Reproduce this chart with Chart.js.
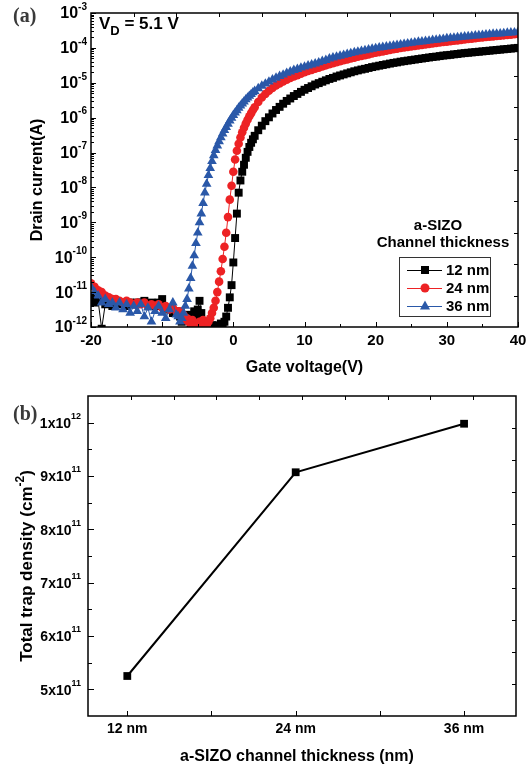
<!DOCTYPE html>
<html>
<head>
<meta charset="utf-8">
<script src="https://cdn.jsdelivr.net/npm/chart.js"></script>
<style>
  body { margin: 0; background: #fff; }
  canvas { position: absolute; left: 0; }
  #chartA { top: 0; }
  #chartB { top: 376px; }
</style>
</head>
<body>
<canvas id="chartA" width="532" height="376"></canvas>
<canvas id="chartB" width="532" height="395"></canvas>
<script>
// gate voltage sweep (V): coarse off-state, fine around turn-on, coarse on-state
const gateVoltage = [
  -20, -19.5, -19, -18.5, -18, -17.5, -17, -16.5, -16, -15.5, -15, -14.5, -14, -13.5, -13, -12.5, -12, -11.5, -11, -10.5, -10, -9.5, -9, -8.5, -8,
  -7.75, -7.5, -7.25, -7, -6.75, -6.5, -6.25, -6, -5.75, -5.5, -5.25, -5, -4.75, -4.5, -4.25, -4, -3.75, -3.5, -3.25, -3, -2.75, -2.5, -2.25, -2, -1.75, -1.5, -1.25, -1, -0.75, -0.5, -0.25, 0, 0.25, 0.5, 0.75, 1, 1.25, 1.5, 1.75, 2, 2.25, 2.5, 2.75, 3,
  3.5, 4, 4.5, 5, 5.5, 6, 6.5, 7, 7.5, 8, 8.5, 9, 9.5, 10, 10.5, 11, 11.5, 12, 12.5, 13, 13.5, 14, 14.5, 15, 15.5, 16, 16.5, 17, 17.5, 18, 18.5, 19, 19.5, 20,
  20.5, 21, 21.5, 22, 22.5, 23, 23.5, 24, 24.5, 25, 25.5, 26, 26.5, 27, 27.5, 28, 28.5, 29, 29.5, 30, 30.5, 31, 31.5, 32, 32.5, 33, 33.5, 34, 34.5, 35, 35.5, 36, 36.5, 37, 37.5, 38, 38.5, 39, 39.5, 40
];

// log10 of drain current (A)
const logId12nm = [
  -11.15, -11.3, -11.25, -12.05, -11.35, -11.3, -11.4, -11.3, -11.35, -11.3, -11.4, -11.3, -11.35, -11.3, -11.3, -11.25, -11.35, -11.3, -11.4, -11.3, -11.2, -11.45, -11.5, -11.6, -11.55,
  -11.6, -11.7, -11.85, -11.75, -11.8, -11.65, -11.8, -11.9, -11.7, -11.55, -11.75, -11.5, -11.25, -11.6, -11.85, -11.95, -12.05, -11.9, -12.1, -11.95,
  -12.0, -12.1, -11.95, -12.05, -11.9, -11.95, -11.85, -11.7, -11.45, -11.15, -10.8, -10.15, -9.45, -8.75, -8.15, -7.8, -7.55, -7.35, -7.15, -6.98,
  -6.84, -6.72, -6.62, -6.52,
  -6.36, -6.23, -6.1, -5.99, -5.88, -5.78, -5.69, -5.6, -5.52, -5.45,
  -5.38, -5.32, -5.26, -5.2, -5.15, -5.1, -5.05, -5.01, -4.97, -4.93,
  -4.89, -4.86, -4.82, -4.79, -4.76, -4.73, -4.7, -4.67, -4.645, -4.62,
  -4.6, -4.575, -4.55, -4.53, -4.51, -4.49, -4.47, -4.45, -4.43, -4.415,
  -4.395, -4.38, -4.365, -4.35, -4.335, -4.32, -4.305, -4.29, -4.275, -4.26,
  -4.25, -4.235, -4.22, -4.21, -4.2, -4.185, -4.175, -4.16, -4.15, -4.14,
  -4.13, -4.12, -4.11, -4.1, -4.09, -4.08, -4.07, -4.06, -4.05, -4.04,
  -4.03, -4.02, -4.01, -4.0
];

const logId24nm = [
  -10.75, -10.85, -10.95, -11.0, -11.1, -11.15, -11.2, -11.2, -11.25, -11.3, -11.25, -11.3, -11.35, -11.3, -11.35, -11.3, -11.4, -11.35, -11.4, -11.35, -11.45, -11.4, -11.5, -11.45, -11.55,
  -11.6, -11.55, -11.7, -11.65, -11.8, -11.75, -11.85, -11.9, -11.8, -11.95, -12.05, -11.95, -11.85, -11.9, -11.8, -11.9, -11.95, -11.85, -11.75, -11.6,
  -11.45, -11.25, -11.0, -10.7, -10.4, -10.05, -9.7, -9.3, -8.85, -8.35, -7.95, -7.55, -7.2, -6.95, -6.75, -6.57, -6.42, -6.29, -6.17, -6.06,
  -5.96, -5.87, -5.78, -5.7,
  -5.55, -5.42, -5.32, -5.23, -5.15, -5.08, -5.02, -4.96, -4.91, -4.86,
  -4.82, -4.78, -4.74, -4.7, -4.66, -4.63, -4.6, -4.57, -4.53, -4.5,
  -4.47, -4.44, -4.41, -4.38, -4.355, -4.33, -4.305, -4.28, -4.255, -4.23,
  -4.21, -4.185, -4.16, -4.14, -4.12, -4.1, -4.08, -4.06, -4.04, -4.025,
  -4.005, -3.99, -3.975, -3.96, -3.945, -3.93, -3.915, -3.9, -3.885, -3.87,
  -3.86, -3.845, -3.83, -3.82, -3.81, -3.795, -3.785, -3.77, -3.76, -3.745,
  -3.735, -3.72, -3.71, -3.7, -3.69, -3.68, -3.67, -3.66, -3.65, -3.64,
  -3.63, -3.62, -3.61, -3.6
];

const logId36nm = [
  -10.85, -11.0, -11.1, -11.3, -11.2, -11.35, -11.3, -11.45, -11.3, -11.5, -11.35, -11.6, -11.4, -11.55, -11.35, -11.7, -11.45, -11.85, -11.55, -11.4, -11.6, -11.75, -11.5, -11.3, -11.65,
  -11.7, -11.85, -11.75, -11.6, -11.4, -11.2, -10.9, -10.6, -10.25, -9.95, -9.6, -9.3, -9.0, -8.75, -8.45, -8.15, -7.9, -7.65, -7.45, -7.25,
  -7.08, -6.93, -6.8, -6.68, -6.57, -6.46, -6.36, -6.27, -6.18, -6.09, -6.01, -5.93, -5.86, -5.79, -5.72, -5.66, -5.6, -5.54, -5.48, -5.43,
  -5.38, -5.33, -5.28, -5.24,
  -5.16, -5.09, -5.03, -4.97, -4.91, -4.86, -4.81, -4.77, -4.72, -4.68,
  -4.64, -4.61, -4.57, -4.54, -4.51, -4.48, -4.45, -4.42, -4.38, -4.35,
  -4.31, -4.28, -4.255, -4.23, -4.205, -4.18, -4.155, -4.13, -4.11, -4.09,
  -4.07, -4.05, -4.03, -4.01, -3.995, -3.98, -3.965, -3.95, -3.935, -3.92,
  -3.905, -3.89, -3.875, -3.86, -3.845, -3.83, -3.82, -3.805, -3.795, -3.78,
  -3.77, -3.755, -3.745, -3.73, -3.72, -3.71, -3.7, -3.69, -3.68, -3.67,
  -3.66, -3.65, -3.64, -3.63, -3.62, -3.61, -3.6, -3.595, -3.59, -3.58,
  -3.57, -3.565, -3.56, -3.55
];

const seriesNames = ['12 nm', '24 nm', '36 nm'];
const seriesColors = ['#000000', '#ed2224', '#2a58a8'];
const seriesMarkers = ['rect', 'circle', 'triangle'];
const vgTicks = [-20, -10, 0, 10, 20, 30, 40];
const currentDecades = [-12, -11, -10, -9, -8, -7, -6, -5, -4, -3];

// panel (b)
const thickness = [12, 24, 36];
const trapDensity = [5.25e11, 9.07e11, 9.98e11];
const trapTicks = [5e11, 6e11, 7e11, 8e11, 9e11, 1e12];

const SANS = '"Liberation Sans", Arial, sans-serif';
const SERIF = '"Liberation Serif", "Times New Roman", serif';

function toPoints(logs) {
  return gateVoltage.map((v, i) => ({ x: v, y: Math.pow(10, logs[i]) }));
}

// text with a raised (or lowered) small part, drawn left to right from x
function drawScript(ctx, parts, x, y) {
  parts.forEach(p => {
    ctx.font = p.font;
    ctx.fillText(p.text, x, y + (p.dy || 0));
    x += ctx.measureText(p.text).width;
  });
  return x;
}
function scriptWidth(ctx, parts) {
  let w = 0;
  parts.forEach(p => { ctx.font = p.font; w += ctx.measureText(p.text).width; });
  return w;
}

function line(ctx, x1, y1, x2, y2) {
  ctx.moveTo(x1, y1);
  ctx.lineTo(x2, y2);
}

// ---------- panel (a) ----------
const decorA = {
  id: 'decorA',
  afterDraw(chart) {
    const { ctx, chartArea: a, scales: { x, y } } = chart;
    ctx.save();
    ctx.strokeStyle = '#000';
    ctx.fillStyle = '#000';

    // inward ticks
    ctx.lineWidth = 1;
    ctx.beginPath();
    for (let v = -20; v <= 40; v += 5) {
      const px = Math.round(x.getPixelForValue(v)) + 0.5;
      line(ctx, px, a.bottom, px, a.bottom - (v % 10 === 0 ? 5 : 3));
    }
    currentDecades.forEach(n => {
      const py = Math.round(y.getPixelForValue(Math.pow(10, n))) + 0.5;
      line(ctx, a.left, py, a.left + 5, py);
      if (n < -3) {
        for (let k = 2; k <= 9; k++) {
          const pm = Math.round(y.getPixelForValue(k * Math.pow(10, n))) + 0.5;
          line(ctx, a.left, pm, a.left + 3, pm);
        }
      }
    });
    for (let i = 1; i < 10; i++) {
      const px = Math.round(a.left + (a.right - a.left) * i / 10) + 0.5;
      line(ctx, px, a.top, px, a.top + 4);
      const py = Math.round(a.top + (a.bottom - a.top) * i / 10) + 0.5;
      line(ctx, a.right, py, a.right - 4, py);
    }
    ctx.stroke();

    ctx.lineWidth = 1.5;
    ctx.strokeRect(a.left, a.top, a.right - a.left, a.bottom - a.top);

    // y tick labels 10^n
    ctx.textBaseline = 'middle';
    ctx.textAlign = 'left';
    currentDecades.forEach(n => {
      const py = y.getPixelForValue(Math.pow(10, n));
      const parts = [
        { text: '10', font: 'bold 16px ' + SANS, dy: 1 },
        { text: String(n), font: 'bold 10px ' + SANS, dy: -6 }
      ];
      drawScript(ctx, parts, 87 - scriptWidth(ctx, parts), py);
    });

    // axis titles
    ctx.font = 'bold 16px ' + SANS;
    ctx.textAlign = 'center';
    ctx.fillText('Gate voltage(V)', (a.left + a.right) / 2, 368);
    ctx.save();
    ctx.translate(38, 180);
    ctx.rotate(-Math.PI / 2);
    ctx.fillText('Drain current(A)', 0, 0);
    ctx.restore();

    // panel letter and bias note
    ctx.textAlign = 'left';
    ctx.fillStyle = '#3a3a3a';
    ctx.font = 'bold 20px ' + SERIF;
    ctx.fillText('(a)', 13, 17);
    ctx.fillStyle = '#000';
    ctx.textBaseline = 'alphabetic';
    drawScript(ctx, [
      { text: 'V', font: 'bold 17px ' + SANS },
      { text: 'D', font: 'bold 13px ' + SANS, dy: 6 },
      { text: ' = 5.1 V', font: 'bold 17px ' + SANS }
    ], 99, 29);

    // legend
    ctx.textAlign = 'center';
    ctx.textBaseline = 'middle';
    ctx.font = 'bold 15px ' + SANS;
    ctx.fillText('a-SIZO', 438, 226);
    ctx.fillText('Channel thickness', 443, 243);
    ctx.lineWidth = 1;
    ctx.strokeStyle = '#333';
    ctx.strokeRect(399.5, 257.5, 91, 59);
    ctx.textAlign = 'left';
    seriesNames.forEach((name, i) => {
      const ly = 270 + i * 18;
      ctx.strokeStyle = seriesColors[i];
      ctx.fillStyle = seriesColors[i];
      ctx.beginPath();
      line(ctx, 407, ly + 0.5, 442, ly + 0.5);
      ctx.stroke();
      ctx.beginPath();
      if (seriesMarkers[i] === 'rect') {
        ctx.rect(421, ly - 4, 8, 8);
      } else if (seriesMarkers[i] === 'circle') {
        ctx.arc(425, ly, 4.5, 0, Math.PI * 2);
      } else {
        ctx.moveTo(425, ly - 5.5);
        ctx.lineTo(430, ly + 3.5);
        ctx.lineTo(420, ly + 3.5);
        ctx.closePath();
      }
      ctx.fill();
      ctx.fillStyle = '#000';
      ctx.fillText(name, 446, ly + 1);
    });
    ctx.restore();
  }
};

const logSeries = [logId12nm, logId24nm, logId36nm];
const pointRadii = [5.6, 4.3, 5.6];

new Chart(document.getElementById('chartA'), {
  type: 'line',
  data: {
    datasets: seriesNames.map((name, i) => ({
      label: name,
      data: toPoints(logSeries[i]),
      borderColor: seriesColors[i],
      backgroundColor: seriesColors[i],
      borderWidth: 1,
      pointStyle: seriesMarkers[i],
      pointRadius: pointRadii[i],
      pointBorderWidth: 0,
      pointBackgroundColor: seriesColors[i],
      tension: 0,
      order: 2 - i
    }))
  },
  options: {
    responsive: false,
    animation: false,
    layout: { padding: { top: 13, right: 14, left: 0, bottom: 0 } },
    plugins: { legend: { display: false }, tooltip: { enabled: false } },
    scales: {
      x: {
        type: 'linear',
        min: -20,
        max: 40,
        afterBuildTicks: s => { s.ticks = vgTicks.map(v => ({ value: v })); },
        afterFit: s => { s.height = 49; },
        grid: { display: false, drawTicks: false },
        border: { display: false },
        ticks: {
          autoSkip: false,
          maxRotation: 0,
          padding: 5,
          color: '#000',
          font: { family: SANS, size: 15, weight: 'bold' }
        }
      },
      y: {
        type: 'logarithmic',
        min: 1e-12,
        max: 1e-3,
        afterFit: s => { s.width = 91; },
        grid: { display: false, drawTicks: false },
        border: { display: false },
        ticks: { display: false }
      }
    }
  },
  plugins: [decorA]
});

// ---------- panel (b) ----------
const decorB = {
  id: 'decorB',
  afterDraw(chart) {
    const { ctx, chartArea: a, scales: { x, y } } = chart;
    ctx.save();
    ctx.strokeStyle = '#000';
    ctx.fillStyle = '#000';

    ctx.lineWidth = 1;
    ctx.beginPath();
    for (let v = 12; v <= 36; v += 6) {
      const px = Math.round(x.getPixelForValue(v)) + 0.5;
      line(ctx, px, a.bottom, px, a.bottom - 5);
    }
    for (let v = 5e11; v <= 1.0e12 + 1; v += 0.5e11) {
      const py = Math.round(y.getPixelForValue(v)) + 0.5;
      const major = Math.abs(v / 1e11 - Math.round(v / 1e11)) < 1e-6;
      line(ctx, a.left, py, a.left + (major ? 6 : 4), py);
    }
    for (let i = 1; i < 10; i++) {
      const px = Math.round(a.left + (a.right - a.left) * i / 10) + 0.5;
      line(ctx, px, a.top, px, a.top + 4);
      const py = Math.round(a.top + (a.bottom - a.top) * i / 10) + 0.5;
      line(ctx, a.right, py, a.right - 4, py);
    }
    ctx.stroke();

    ctx.lineWidth = 1.5;
    ctx.strokeRect(a.left, a.top, a.right - a.left, a.bottom - a.top);

    // y tick labels  m x 10^e
    ctx.textBaseline = 'middle';
    ctx.textAlign = 'left';
    trapTicks.forEach(v => {
      const e = Math.floor(Math.log10(v) + 1e-9);
      const m = Math.round(v / Math.pow(10, e));
      const py = y.getPixelForValue(v);
      const parts = [
        { text: m + 'x10', font: 'bold 14px ' + SANS, dy: 1.5 },
        { text: String(e), font: 'bold 9px ' + SANS, dy: -6 }
      ];
      drawScript(ctx, parts, 81 - scriptWidth(ctx, parts), py);
    });

    // axis titles
    ctx.font = 'bold 16px ' + SANS;
    ctx.textAlign = 'center';
    ctx.fillText('a-SIZO channel thickness (nm)', 297, 381);
    ctx.save();
    ctx.translate(27, 190);
    ctx.rotate(-Math.PI / 2);
    ctx.textAlign = 'left';
    const tParts = [
      { text: 'Total trap density (cm', font: 'bold 17px ' + SANS, dy: 0 },
      { text: '-2', font: 'bold 12px ' + SANS, dy: -6 },
      { text: ')', font: 'bold 17px ' + SANS, dy: 0 }
    ];
    drawScript(ctx, tParts, -scriptWidth(ctx, tParts) / 2, 0);
    ctx.restore();

    ctx.textAlign = 'left';
    ctx.fillStyle = '#3a3a3a';
    ctx.font = 'bold 20px ' + SERIF;
    ctx.fillText('(b)', 13, 39);
    ctx.restore();
  }
};

new Chart(document.getElementById('chartB'), {
  type: 'line',
  data: {
    datasets: [{
      label: 'Total trap density',
      data: thickness.map((t, i) => ({ x: t, y: trapDensity[i] })),
      borderColor: '#000',
      backgroundColor: '#000',
      borderWidth: 2,
      pointStyle: 'rect',
      pointRadius: 5.5,
      pointBorderWidth: 0,
      pointBackgroundColor: '#000',
      tension: 0
    }]
  },
  options: {
    responsive: false,
    animation: false,
    layout: { padding: { top: 20, right: 16, left: 0, bottom: 0 } },
    plugins: { legend: { display: false }, tooltip: { enabled: false } },
    scales: {
      x: {
        type: 'linear',
        min: 9.2,
        max: 39.7,
        afterBuildTicks: s => { s.ticks = thickness.map(v => ({ value: v })); },
        afterFit: s => { s.height = 55; },
        grid: { display: false, drawTicks: false },
        border: { display: false },
        ticks: {
          autoSkip: false,
          maxRotation: 0,
          padding: 5,
          color: '#000',
          font: { family: SANS, size: 14, weight: 'bold' },
          callback: v => v + ' nm'
        }
      },
      y: {
        type: 'linear',
        min: 4.5e11,
        max: 1.05e12,
        afterFit: s => { s.width = 88; },
        grid: { display: false, drawTicks: false },
        border: { display: false },
        ticks: { display: false }
      }
    }
  },
  plugins: [decorB]
});
</script>
</body>
</html>
